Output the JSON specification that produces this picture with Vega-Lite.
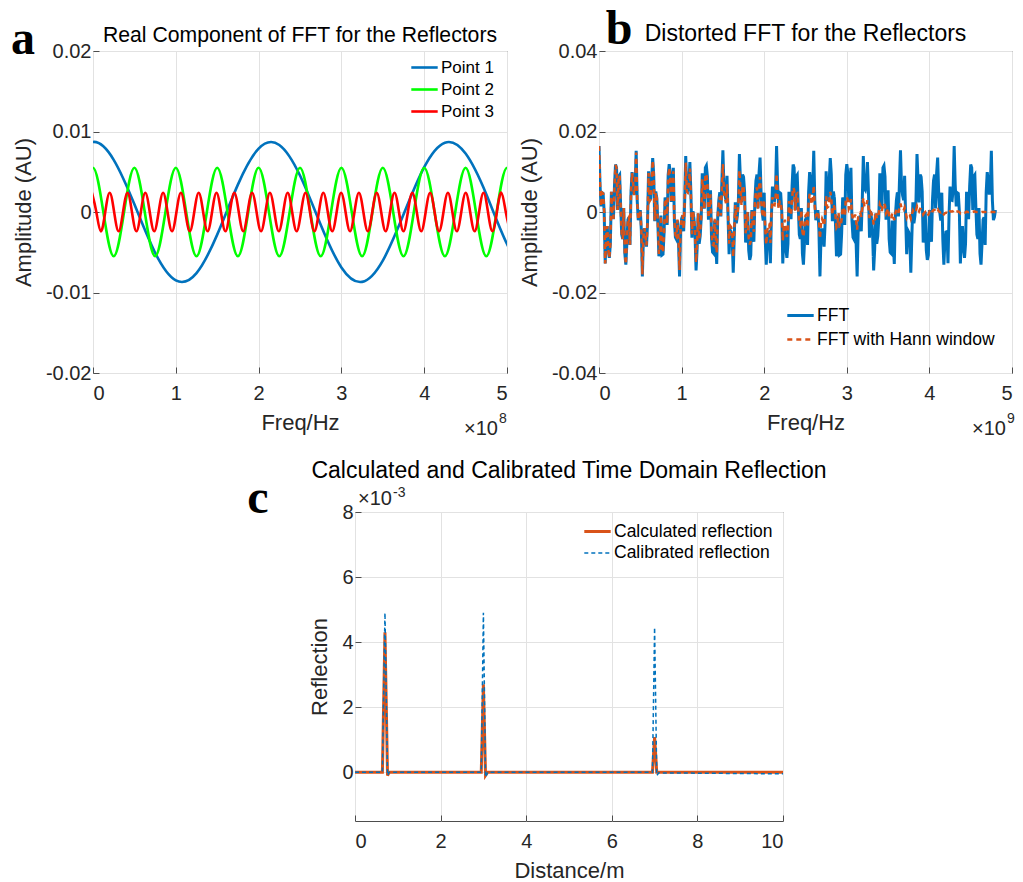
{
"$schema": "https://vega.github.io/schema/vega-lite/v6.json",
"background": "white",
"padding": {"left": 10, "top": 5, "right": 0, "bottom": 0},
"bounds": "flush",
"spacing": 461,
"resolve": {"scale": {"color": "independent", "strokeDash": "independent", "strokeWidth": "independent"}, "legend": {"color": "independent", "strokeDash": "independent", "strokeWidth": "independent"}},
"datasets": {
"fa": [
{"series":"Point 1","freq":-0.25,"amp":0.00648},{"series":"Point 1","freq":0,"amp":0.0087},{"series":"Point 1","freq":0.25,"amp":0.00648},{"series":"Point 1","freq":0.5,"amp":0.00095},{"series":"Point 1","freq":0.75,"amp":-0.00506},{"series":"Point 1","freq":1.0,"amp":-0.00849},{"series":"Point 1","freq":1.25,"amp":-0.00759},{"series":"Point 1","freq":1.5,"amp":-0.00281},{"series":"Point 1","freq":1.75,"amp":0.0034},{"series":"Point 1","freq":2.0,"amp":0.00788},{"series":"Point 1","freq":2.25,"amp":0.00833},{"series":"Point 1","freq":2.5,"amp":0.00453},{"series":"Point 1","freq":2.75,"amp":-0.00158},{"series":"Point 1","freq":3.0,"amp":-0.00689},{"series":"Point 1","freq":3.25,"amp":-0.00868},{"series":"Point 1","freq":3.5,"amp":-0.00604},{"series":"Point 1","freq":3.75,"amp":-0.00032},{"series":"Point 1","freq":4.0,"amp":0.00557},{"series":"Point 1","freq":4.25,"amp":0.00861},{"series":"Point 1","freq":4.5,"amp":0.00726},{"series":"Point 1","freq":4.75,"amp":0.0022},{"series":"Point 1","freq":5.0,"amp":-0.00398},{"series":"Point 1","freq":5.25,"amp":-0.00813},
{"series":"Point 2","freq":-0.125,"amp":0},{"series":"Point 2","freq":0,"amp":0.0055},{"series":"Point 2","freq":0.125,"amp":0},{"series":"Point 2","freq":0.25,"amp":-0.0055},{"series":"Point 2","freq":0.375,"amp":0},{"series":"Point 2","freq":0.5,"amp":0.0055},{"series":"Point 2","freq":0.625,"amp":0},{"series":"Point 2","freq":0.75,"amp":-0.0055},{"series":"Point 2","freq":0.875,"amp":0},{"series":"Point 2","freq":1.0,"amp":0.0055},{"series":"Point 2","freq":1.125,"amp":0},{"series":"Point 2","freq":1.25,"amp":-0.0055},{"series":"Point 2","freq":1.375,"amp":0},{"series":"Point 2","freq":1.5,"amp":0.0055},{"series":"Point 2","freq":1.625,"amp":0},{"series":"Point 2","freq":1.75,"amp":-0.0055},{"series":"Point 2","freq":1.875,"amp":0},{"series":"Point 2","freq":2.0,"amp":0.0055},{"series":"Point 2","freq":2.125,"amp":0},{"series":"Point 2","freq":2.25,"amp":-0.0055},{"series":"Point 2","freq":2.375,"amp":0},{"series":"Point 2","freq":2.5,"amp":0.0055},{"series":"Point 2","freq":2.625,"amp":0},{"series":"Point 2","freq":2.75,"amp":-0.0055},{"series":"Point 2","freq":2.875,"amp":0},{"series":"Point 2","freq":3.0,"amp":0.0055},{"series":"Point 2","freq":3.125,"amp":0},{"series":"Point 2","freq":3.25,"amp":-0.0055},{"series":"Point 2","freq":3.375,"amp":0},{"series":"Point 2","freq":3.5,"amp":0.0055},{"series":"Point 2","freq":3.625,"amp":0},{"series":"Point 2","freq":3.75,"amp":-0.0055},{"series":"Point 2","freq":3.875,"amp":0},{"series":"Point 2","freq":4.0,"amp":0.0055},{"series":"Point 2","freq":4.125,"amp":0},{"series":"Point 2","freq":4.25,"amp":-0.0055},{"series":"Point 2","freq":4.375,"amp":0},{"series":"Point 2","freq":4.5,"amp":0.0055},{"series":"Point 2","freq":4.625,"amp":0},{"series":"Point 2","freq":4.75,"amp":-0.0055},{"series":"Point 2","freq":4.875,"amp":0},{"series":"Point 2","freq":5.0,"amp":0.0055},{"series":"Point 2","freq":5.125,"amp":0},
{"series":"Point 3","freq":-0.0135,"amp":0.0024},{"series":"Point 3","freq":0.0403,"amp":0},{"series":"Point 3","freq":0.094,"amp":-0.0024},{"series":"Point 3","freq":0.1478,"amp":0},{"series":"Point 3","freq":0.2015,"amp":0.0024},{"series":"Point 3","freq":0.2553,"amp":0},{"series":"Point 3","freq":0.309,"amp":-0.0024},{"series":"Point 3","freq":0.3628,"amp":0},{"series":"Point 3","freq":0.4165,"amp":0.0024},{"series":"Point 3","freq":0.4703,"amp":0},{"series":"Point 3","freq":0.524,"amp":-0.0024},{"series":"Point 3","freq":0.5778,"amp":0},{"series":"Point 3","freq":0.6315,"amp":0.0024},{"series":"Point 3","freq":0.6853,"amp":0},{"series":"Point 3","freq":0.739,"amp":-0.0024},{"series":"Point 3","freq":0.7928,"amp":0},{"series":"Point 3","freq":0.8465,"amp":0.0024},{"series":"Point 3","freq":0.9003,"amp":0},{"series":"Point 3","freq":0.954,"amp":-0.0024},{"series":"Point 3","freq":1.0078,"amp":0},{"series":"Point 3","freq":1.0615,"amp":0.0024},{"series":"Point 3","freq":1.1153,"amp":0},{"series":"Point 3","freq":1.169,"amp":-0.0024},{"series":"Point 3","freq":1.2228,"amp":0},{"series":"Point 3","freq":1.2765,"amp":0.0024},{"series":"Point 3","freq":1.3303,"amp":0},{"series":"Point 3","freq":1.384,"amp":-0.0024},{"series":"Point 3","freq":1.4378,"amp":0},{"series":"Point 3","freq":1.4915,"amp":0.0024},{"series":"Point 3","freq":1.5453,"amp":0},{"series":"Point 3","freq":1.599,"amp":-0.0024},{"series":"Point 3","freq":1.6528,"amp":0},{"series":"Point 3","freq":1.7065,"amp":0.0024},{"series":"Point 3","freq":1.7603,"amp":0},{"series":"Point 3","freq":1.814,"amp":-0.0024},{"series":"Point 3","freq":1.8678,"amp":0},{"series":"Point 3","freq":1.9215,"amp":0.0024},{"series":"Point 3","freq":1.9753,"amp":0},{"series":"Point 3","freq":2.029,"amp":-0.0024},{"series":"Point 3","freq":2.0828,"amp":0},{"series":"Point 3","freq":2.1365,"amp":0.0024},{"series":"Point 3","freq":2.1903,"amp":0},{"series":"Point 3","freq":2.244,"amp":-0.0024},{"series":"Point 3","freq":2.2978,"amp":0},{"series":"Point 3","freq":2.3515,"amp":0.0024},{"series":"Point 3","freq":2.4053,"amp":0},{"series":"Point 3","freq":2.459,"amp":-0.0024},{"series":"Point 3","freq":2.5128,"amp":0},{"series":"Point 3","freq":2.5665,"amp":0.0024},{"series":"Point 3","freq":2.6203,"amp":0},{"series":"Point 3","freq":2.674,"amp":-0.0024},{"series":"Point 3","freq":2.7278,"amp":0},{"series":"Point 3","freq":2.7815,"amp":0.0024},{"series":"Point 3","freq":2.8353,"amp":0},{"series":"Point 3","freq":2.889,"amp":-0.0024},{"series":"Point 3","freq":2.9428,"amp":0},{"series":"Point 3","freq":2.9965,"amp":0.0024},{"series":"Point 3","freq":3.0503,"amp":0},{"series":"Point 3","freq":3.104,"amp":-0.0024},{"series":"Point 3","freq":3.1578,"amp":0},{"series":"Point 3","freq":3.2115,"amp":0.0024},{"series":"Point 3","freq":3.2653,"amp":0},{"series":"Point 3","freq":3.319,"amp":-0.0024},{"series":"Point 3","freq":3.3728,"amp":0},{"series":"Point 3","freq":3.4265,"amp":0.0024},{"series":"Point 3","freq":3.4803,"amp":0},{"series":"Point 3","freq":3.534,"amp":-0.0024},{"series":"Point 3","freq":3.5878,"amp":0},{"series":"Point 3","freq":3.6415,"amp":0.0024},{"series":"Point 3","freq":3.6953,"amp":0},{"series":"Point 3","freq":3.749,"amp":-0.0024},{"series":"Point 3","freq":3.8028,"amp":0},{"series":"Point 3","freq":3.8565,"amp":0.0024},{"series":"Point 3","freq":3.9103,"amp":0},{"series":"Point 3","freq":3.964,"amp":-0.0024},{"series":"Point 3","freq":4.0178,"amp":0},{"series":"Point 3","freq":4.0715,"amp":0.0024},{"series":"Point 3","freq":4.1253,"amp":0},{"series":"Point 3","freq":4.179,"amp":-0.0024},{"series":"Point 3","freq":4.2328,"amp":0},{"series":"Point 3","freq":4.2865,"amp":0.0024},{"series":"Point 3","freq":4.3403,"amp":0},{"series":"Point 3","freq":4.394,"amp":-0.0024},{"series":"Point 3","freq":4.4478,"amp":0},{"series":"Point 3","freq":4.5015,"amp":0.0024},{"series":"Point 3","freq":4.5553,"amp":0},{"series":"Point 3","freq":4.609,"amp":-0.0024},{"series":"Point 3","freq":4.6628,"amp":0},{"series":"Point 3","freq":4.7165,"amp":0.0024},{"series":"Point 3","freq":4.7703,"amp":0},{"series":"Point 3","freq":4.824,"amp":-0.0024},{"series":"Point 3","freq":4.8778,"amp":0},{"series":"Point 3","freq":4.9315,"amp":0.0024},{"series":"Point 3","freq":4.9853,"amp":0},{"series":"Point 3","freq":5.039,"amp":-0.0024}
],
"fb": [
{"freq":0,"fft":0.0164,"hann":0.0164},{"freq":0.0125,"fft":0.0067,"hann":0.0067},{"freq":0.025,"fft":0.0014,"hann":0.0014},{"freq":0.0375,"fft":0.0048,"hann":0.0048},{"freq":0.05,"fft":0.0046,"hann":0.0046},{"freq":0.0625,"fft":0.0002,"hann":0.0002},{"freq":0.075,"fft":-0.0128,"hann":-0.0128},{"freq":0.0875,"fft":-0.0056,"hann":-0.0056},{"freq":0.1,"fft":-0.0035,"hann":-0.0035},{"freq":0.1125,"fft":-0.0093,"hann":-0.0093},
{"freq":0.125,"fft":-0.0114,"hann":-0.0114},{"freq":0.1375,"fft":-0.0079,"hann":-0.0079},{"freq":0.15,"fft":0.005,"hann":0.005},{"freq":0.1625,"fft":-0.0014,"hann":-0.0014},{"freq":0.175,"fft":-0.0014,"hann":-0.0014},{"freq":0.1875,"fft":0.0065,"hann":0.0065},{"freq":0.2,"fft":0.0118,"hann":0.0117},{"freq":0.2125,"fft":0.011,"hann":0.0109},{"freq":0.225,"fft":0.0005,"hann":0.0005},{"freq":0.2375,"fft":0.0088,"hann":0.0087},
{"freq":0.25,"fft":0.0092,"hann":0.0091},{"freq":0.2625,"fft":0.0013,"hann":0.0012},{"freq":0.275,"fft":-0.0056,"hann":-0.0056},{"freq":0.2875,"fft":-0.0067,"hann":-0.0067},{"freq":0.3,"fft":0.001,"hann":0.001},{"freq":0.3125,"fft":-0.0103,"hann":-0.0102},{"freq":0.325,"fft":-0.0131,"hann":-0.013},{"freq":0.3375,"fft":-0.0077,"hann":-0.0076},{"freq":0.35,"fft":-0.0019,"hann":-0.0018},{"freq":0.3625,"fft":-0.0013,"hann":-0.0013},
{"freq":0.375,"fft":-0.0082,"hann":-0.0081},{"freq":0.3875,"fft":0.0049,"hann":0.0048},{"freq":0.4,"fft":0.0099,"hann":0.0097},{"freq":0.4125,"fft":0.0076,"hann":0.0075},{"freq":0.425,"fft":0.0043,"hann":0.0042},{"freq":0.4375,"fft":0.0065,"hann":0.0063},{"freq":0.45,"fft":0.0152,"hann":0.0148},{"freq":0.4625,"fft":0.0029,"hann":0.0029},{"freq":0.475,"fft":-0.002,"hann":-0.0019},{"freq":0.4875,"fft":-0.0012,"hann":-0.0011},
{"freq":0.5,"fft":0.0005,"hann":0.0005},{"freq":0.5125,"fft":-0.0045,"hann":-0.0044},{"freq":0.525,"fft":-0.016,"hann":-0.0155},{"freq":0.5375,"fft":-0.0065,"hann":-0.0063},{"freq":0.55,"fft":-0.0041,"hann":-0.004},{"freq":0.5625,"fft":-0.0061,"hann":-0.0059},{"freq":0.575,"fft":-0.0086,"hann":-0.0083},{"freq":0.5875,"fft":-0.0028,"hann":-0.0027},{"freq":0.6,"fft":0.0101,"hann":0.0097},{"freq":0.6125,"fft":0.0028,"hann":0.0027},
{"freq":0.625,"fft":0.0034,"hann":0.0032},{"freq":0.6375,"fft":0.008,"hann":0.0076},{"freq":0.65,"fft":0.0134,"hann":0.0128},{"freq":0.6625,"fft":0.0093,"hann":0.0089},{"freq":0.675,"fft":-0.0023,"hann":-0.0021},{"freq":0.6875,"fft":0.0051,"hann":0.0049},{"freq":0.7,"fft":0.0034,"hann":0.0033},{"freq":0.7125,"fft":-0.0027,"hann":-0.0025},{"freq":0.725,"fft":-0.011,"hann":-0.0104},{"freq":0.7375,"fft":-0.0095,"hann":-0.0089},
{"freq":0.75,"fft":-0.0009,"hann":-0.0009},{"freq":0.7625,"fft":-0.0107,"hann":-0.01},{"freq":0.775,"fft":-0.0105,"hann":-0.0099},{"freq":0.7875,"fft":-0.0054,"hann":-0.0051},{"freq":0.8,"fft":0.0036,"hann":0.0033},{"freq":0.8125,"fft":0.003,"hann":0.0028},{"freq":0.825,"fft":-0.0032,"hann":-0.0029},{"freq":0.8375,"fft":0.0093,"hann":0.0086},{"freq":0.85,"fft":0.0119,"hann":0.011},{"freq":0.8625,"fft":0.0097,"hann":0.009},
{"freq":0.875,"fft":0.0025,"hann":0.0023},{"freq":0.8875,"fft":0.0047,"hann":0.0043},{"freq":0.9,"fft":0.011,"hann":0.0101},{"freq":0.9125,"fft":-0.0021,"hann":-0.0019},{"freq":0.925,"fft":-0.0063,"hann":-0.0057},{"freq":0.9375,"fft":-0.0068,"hann":-0.0061},{"freq":0.95,"fft":-0.0021,"hann":-0.0019},{"freq":0.9625,"fft":-0.0075,"hann":-0.0067},{"freq":0.975,"fft":-0.016,"hann":-0.0144},{"freq":0.9875,"fft":-0.0049,"hann":-0.0044},
{"freq":1.0,"fft":-0.0017,"hann":-0.0015},{"freq":1.0125,"fft":-0.0009,"hann":-0.0008},{"freq":1.025,"fft":-0.0048,"hann":-0.0042},{"freq":1.0375,"fft":0.003,"hann":0.0026},{"freq":1.05,"fft":0.0139,"hann":0.0123},{"freq":1.0625,"fft":0.0058,"hann":0.0051},{"freq":1.075,"fft":0.0054,"hann":0.0048},{"freq":1.0875,"fft":0.0067,"hann":0.0058},{"freq":1.1,"fft":0.0124,"hann":0.0108},{"freq":1.1125,"fft":0.0048,"hann":0.0042},
{"freq":1.125,"fft":-0.0064,"hann":-0.0055},{"freq":1.1375,"fft":0.0002,"hann":0.0001},{"freq":1.15,"fft":-0.0018,"hann":-0.0016},{"freq":1.1625,"fft":-0.0056,"hann":-0.0049},{"freq":1.175,"fft":-0.0145,"hann":-0.0125},{"freq":1.1875,"fft":-0.0093,"hann":-0.0079},{"freq":1.2,"fft":-0.0004,"hann":-0.0003},{"freq":1.2125,"fft":-0.0079,"hann":-0.0067},{"freq":1.225,"fft":-0.006,"hann":-0.0051},{"freq":1.2375,"fft":-0.0014,"hann":-0.0012},
{"freq":1.25,"fft":0.0096,"hann":0.0081},{"freq":1.2625,"fft":0.0065,"hann":0.0055},{"freq":1.275,"fft":0.0008,"hann":0.0007},{"freq":1.2875,"fft":0.011,"hann":0.0091},{"freq":1.3,"fft":0.0115,"hann":0.0095},{"freq":1.3125,"fft":0.0088,"hann":0.0072},{"freq":1.325,"fft":-0.0019,"hann":-0.0015},{"freq":1.3375,"fft":0.0013,"hann":0.001},{"freq":1.35,"fft":0.0054,"hann":0.0044},{"freq":1.3625,"fft":-0.0067,"hann":-0.0055},
{"freq":1.375,"fft":-0.01,"hann":-0.0081},{"freq":1.3875,"fft":-0.0103,"hann":-0.0083},{"freq":1.4,"fft":-0.0021,"hann":-0.0017},{"freq":1.4125,"fft":-0.0077,"hann":-0.0062},{"freq":1.425,"fft":-0.0129,"hann":-0.0102},{"freq":1.4375,"fft":-0.0013,"hann":-0.001},{"freq":1.45,"fft":0.0028,"hann":0.0022},{"freq":1.4625,"fft":0.0049,"hann":0.0038},{"freq":1.475,"fft":-0.0011,"hann":-0.0009},{"freq":1.4875,"fft":0.0076,"hann":0.0059},
{"freq":1.5,"fft":0.0153,"hann":0.0119},{"freq":1.5125,"fft":0.0065,"hann":0.005},{"freq":1.525,"fft":0.0042,"hann":0.0032},{"freq":1.5375,"fft":0.0029,"hann":0.0022},{"freq":1.55,"fft":0.009,"hann":0.0069},{"freq":1.5625,"fft":-0.0012,"hann":-0.0009},{"freq":1.575,"fft":-0.0105,"hann":-0.0079},{"freq":1.5875,"fft":-0.0045,"hann":-0.0034},{"freq":1.6,"fft":-0.005,"hann":-0.0038},{"freq":1.6125,"fft":-0.0065,"hann":-0.0048},
{"freq":1.625,"fft":-0.0151,"hann":-0.0112},{"freq":1.6375,"fft":-0.0061,"hann":-0.0045},{"freq":1.65,"fft":0.0024,"hann":0.0017},{"freq":1.6625,"fft":-0.0028,"hann":-0.002},{"freq":1.675,"fft":-0.0009,"hann":-0.0007},{"freq":1.6875,"fft":0.0028,"hann":0.002},{"freq":1.7,"fft":0.0144,"hann":0.0104},{"freq":1.7125,"fft":0.008,"hann":0.0057},{"freq":1.725,"fft":0.0024,"hann":0.0017},{"freq":1.7375,"fft":0.0093,"hann":0.0066},
{"freq":1.75,"fft":0.0087,"hann":0.0062},{"freq":1.7625,"fft":0.0051,"hann":0.0036},{"freq":1.775,"fft":-0.0076,"hann":-0.0053},{"freq":1.7875,"fft":-0.0027,"hann":-0.0019},{"freq":1.8,"fft":0,"hann":0},{"freq":1.8125,"fft":-0.0095,"hann":-0.0065},{"freq":1.825,"fft":-0.0119,"hann":-0.0081},{"freq":1.8375,"fft":-0.0107,"hann":-0.0073},{"freq":1.85,"fft":0.0005,"hann":0.0003},{"freq":1.8625,"fft":-0.0054,"hann":-0.0036},
{"freq":1.875,"fft":-0.0074,"hann":-0.0049},{"freq":1.8875,"fft":0.003,"hann":0.002},{"freq":1.9,"fft":0.0078,"hann":0.0052},{"freq":1.9125,"fft":0.0093,"hann":0.0061},{"freq":1.925,"fft":0.0009,"hann":0.0006},{"freq":1.9375,"fft":0.0097,"hann":0.0063},{"freq":1.95,"fft":0.0135,"hann":0.0087},{"freq":1.9625,"fft":0.0047,"hann":0.003},{"freq":1.975,"fft":0,"hann":0},{"freq":1.9875,"fft":-0.0021,"hann":-0.0013},
{"freq":2.0,"fft":0.0048,"hann":0.003},{"freq":2.0125,"fft":-0.0068,"hann":-0.0042},{"freq":2.025,"fft":-0.0131,"hann":-0.0081},{"freq":2.0375,"fft":-0.0075,"hann":-0.0046},{"freq":2.05,"fft":-0.005,"hann":-0.0031},{"freq":2.0625,"fft":-0.0049,"hann":-0.003},{"freq":2.075,"fft":-0.0127,"hann":-0.0077},{"freq":2.0875,"fft":-0.0009,"hann":-0.0005},{"freq":2.1,"fft":0.0063,"hann":0.0037},{"freq":2.1125,"fft":0.003,"hann":0.0018},
{"freq":2.125,"fft":0.0029,"hann":0.0017},{"freq":2.1375,"fft":0.0058,"hann":0.0034},{"freq":2.15,"fft":0.0164,"hann":0.0095},{"freq":2.1625,"fft":0.0067,"hann":0.0038},{"freq":2.175,"fft":0.0014,"hann":0.0008},{"freq":2.1875,"fft":0.0048,"hann":0.0027},{"freq":2.2,"fft":0.0046,"hann":0.0026},{"freq":2.2125,"fft":0.0002,"hann":0.0001},{"freq":2.225,"fft":-0.0128,"hann":-0.0071},{"freq":2.2375,"fft":-0.0056,"hann":-0.0031},
{"freq":2.25,"fft":-0.0035,"hann":-0.0019},{"freq":2.2625,"fft":-0.0093,"hann":-0.0051},{"freq":2.275,"fft":-0.0114,"hann":-0.0062},{"freq":2.2875,"fft":-0.0079,"hann":-0.0042},{"freq":2.3,"fft":0.005,"hann":0.0027},{"freq":2.3125,"fft":-0.0014,"hann":-0.0007},{"freq":2.325,"fft":-0.0014,"hann":-0.0007},{"freq":2.3375,"fft":0.0065,"hann":0.0034},{"freq":2.35,"fft":0.0118,"hann":0.0061},{"freq":2.3625,"fft":0.011,"hann":0.0056},
{"freq":2.375,"fft":0.0005,"hann":0.0003},{"freq":2.3875,"fft":0.0088,"hann":0.0044},{"freq":2.4,"fft":0.0092,"hann":0.0046},{"freq":2.4125,"fft":0.0013,"hann":0.0006},{"freq":2.425,"fft":-0.0056,"hann":-0.0028},{"freq":2.4375,"fft":-0.0067,"hann":-0.0033},{"freq":2.45,"fft":0.001,"hann":0.0005},{"freq":2.4625,"fft":-0.0103,"hann":-0.0049},{"freq":2.475,"fft":-0.0131,"hann":-0.0062},{"freq":2.4875,"fft":-0.0077,"hann":-0.0036},
{"freq":2.5,"fft":-0.0019,"hann":-0.0009},{"freq":2.5125,"fft":-0.0013,"hann":-0.0006},{"freq":2.525,"fft":-0.0082,"hann":-0.0038},{"freq":2.5375,"fft":0.0049,"hann":0.0022},{"freq":2.55,"fft":0.0099,"hann":0.0045},{"freq":2.5625,"fft":0.0076,"hann":0.0034},{"freq":2.575,"fft":0.0043,"hann":0.0019},{"freq":2.5875,"fft":0.0065,"hann":0.0029},{"freq":2.6,"fft":0.0152,"hann":0.0066},{"freq":2.6125,"fft":0.0029,"hann":0.0012},
{"freq":2.625,"fft":-0.002,"hann":-0.0009},{"freq":2.6375,"fft":-0.0012,"hann":-0.0005},{"freq":2.65,"fft":0.0005,"hann":0.0002},{"freq":2.6625,"fft":-0.0045,"hann":-0.0019},{"freq":2.675,"fft":-0.016,"hann":-0.0066},{"freq":2.6875,"fft":-0.0065,"hann":-0.0026},{"freq":2.7,"fft":-0.0041,"hann":-0.0017},{"freq":2.7125,"fft":-0.0061,"hann":-0.0024},{"freq":2.725,"fft":-0.0086,"hann":-0.0034},{"freq":2.7375,"fft":-0.0028,"hann":-0.0011},
{"freq":2.75,"fft":0.0101,"hann":0.0039},{"freq":2.7625,"fft":0.0028,"hann":0.0011},{"freq":2.775,"fft":0.0034,"hann":0.0013},{"freq":2.7875,"fft":0.008,"hann":0.003},{"freq":2.8,"fft":0.0134,"hann":0.005},{"freq":2.8125,"fft":0.0093,"hann":0.0034},{"freq":2.825,"fft":-0.0023,"hann":-0.0008},{"freq":2.8375,"fft":0.0051,"hann":0.0018},{"freq":2.85,"fft":0.0034,"hann":0.0012},{"freq":2.8625,"fft":-0.0027,"hann":-0.0009},
{"freq":2.875,"fft":-0.011,"hann":-0.0038},{"freq":2.8875,"fft":-0.0095,"hann":-0.0033},{"freq":2.9,"fft":-0.0009,"hann":-0.0003},{"freq":2.9125,"fft":-0.0107,"hann":-0.0036},{"freq":2.925,"fft":-0.0105,"hann":-0.0035},{"freq":2.9375,"fft":-0.0054,"hann":-0.0018},{"freq":2.95,"fft":0.0036,"hann":0.0012},{"freq":2.9625,"fft":0.003,"hann":0.001},{"freq":2.975,"fft":-0.0032,"hann":-0.001},{"freq":2.9875,"fft":0.0093,"hann":0.0029},
{"freq":3.0,"fft":0.0119,"hann":0.0037},{"freq":3.0125,"fft":0.0097,"hann":0.003},{"freq":3.025,"fft":0.0025,"hann":0.0008},{"freq":3.0375,"fft":0.0047,"hann":0.0014},{"freq":3.05,"fft":0.011,"hann":0.0032},{"freq":3.0625,"fft":-0.0021,"hann":-0.0006},{"freq":3.075,"fft":-0.0063,"hann":-0.0018},{"freq":3.0875,"fft":-0.0068,"hann":-0.0019},{"freq":3.1,"fft":-0.0021,"hann":-0.0006},{"freq":3.1125,"fft":-0.0075,"hann":-0.0021},
{"freq":3.125,"fft":-0.016,"hann":-0.0044},{"freq":3.1375,"fft":-0.0049,"hann":-0.0013},{"freq":3.15,"fft":-0.0017,"hann":-0.0005},{"freq":3.1625,"fft":-0.0009,"hann":-0.0002},{"freq":3.175,"fft":-0.0048,"hann":-0.0012},{"freq":3.1875,"fft":0.003,"hann":0.0008},{"freq":3.2,"fft":0.0139,"hann":0.0035},{"freq":3.2125,"fft":0.0058,"hann":0.0014},{"freq":3.225,"fft":0.0054,"hann":0.0013},{"freq":3.2375,"fft":0.0067,"hann":0.0016},
{"freq":3.25,"fft":0.0124,"hann":0.0029},{"freq":3.2625,"fft":0.0048,"hann":0.0011},{"freq":3.275,"fft":-0.0064,"hann":-0.0015},{"freq":3.2875,"fft":0.0002,"hann":0},{"freq":3.3,"fft":-0.0018,"hann":-0.0004},{"freq":3.3125,"fft":-0.0056,"hann":-0.0012},{"freq":3.325,"fft":-0.0145,"hann":-0.0031},{"freq":3.3375,"fft":-0.0093,"hann":-0.002},{"freq":3.35,"fft":-0.0004,"hann":-0.0001},{"freq":3.3625,"fft":-0.0079,"hann":-0.0016},
{"freq":3.375,"fft":-0.006,"hann":-0.0012},{"freq":3.3875,"fft":-0.0014,"hann":-0.0003},{"freq":3.4,"fft":0.0096,"hann":0.0019},{"freq":3.4125,"fft":0.0065,"hann":0.0013},{"freq":3.425,"fft":0.0008,"hann":0.0002},{"freq":3.4375,"fft":0.011,"hann":0.0021},{"freq":3.45,"fft":0.0115,"hann":0.0021},{"freq":3.4625,"fft":0.0088,"hann":0.0016},{"freq":3.475,"fft":-0.0019,"hann":-0.0003},{"freq":3.4875,"fft":0.0013,"hann":0.0002},
{"freq":3.5,"fft":0.0054,"hann":0.0009},{"freq":3.5125,"fft":-0.0067,"hann":-0.0011},{"freq":3.525,"fft":-0.01,"hann":-0.0016},{"freq":3.5375,"fft":-0.0103,"hann":-0.0017},{"freq":3.55,"fft":-0.0021,"hann":-0.0003},{"freq":3.5625,"fft":-0.0077,"hann":-0.0012},{"freq":3.575,"fft":-0.0129,"hann":-0.002},{"freq":3.5875,"fft":-0.0013,"hann":-0.0002},{"freq":3.6,"fft":0.0028,"hann":0.0004},{"freq":3.6125,"fft":0.0049,"hann":0.0007},
{"freq":3.625,"fft":-0.0011,"hann":-0.0002},{"freq":3.6375,"fft":0.0076,"hann":0.0011},{"freq":3.65,"fft":0.0153,"hann":0.0021},{"freq":3.6625,"fft":0.0065,"hann":0.0009},{"freq":3.675,"fft":0.0042,"hann":0.0005},{"freq":3.6875,"fft":0.0029,"hann":0.0004},{"freq":3.7,"fft":0.009,"hann":0.0011},{"freq":3.7125,"fft":-0.0012,"hann":-0.0001},{"freq":3.725,"fft":-0.0105,"hann":-0.0013},{"freq":3.7375,"fft":-0.0045,"hann":-0.0005},
{"freq":3.75,"fft":-0.005,"hann":-0.0006},{"freq":3.7625,"fft":-0.0065,"hann":-0.0007},{"freq":3.775,"fft":-0.0151,"hann":-0.0016},{"freq":3.7875,"fft":-0.0061,"hann":-0.0006},{"freq":3.8,"fft":0.0024,"hann":0.0003},{"freq":3.8125,"fft":-0.0028,"hann":-0.0003},{"freq":3.825,"fft":-0.0009,"hann":-0.0001},{"freq":3.8375,"fft":0.0028,"hann":0.0003},{"freq":3.85,"fft":0.0144,"hann":0.0014},{"freq":3.8625,"fft":0.008,"hann":0.0007},
{"freq":3.875,"fft":0.0024,"hann":0.0002},{"freq":3.8875,"fft":0.0093,"hann":0.0008},{"freq":3.9,"fft":0.0087,"hann":0.0007},{"freq":3.9125,"fft":0.0051,"hann":0.0004},{"freq":3.925,"fft":-0.0076,"hann":-0.0006},{"freq":3.9375,"fft":-0.0027,"hann":-0.0002},{"freq":3.95,"fft":0,"hann":0},{"freq":3.9625,"fft":-0.0095,"hann":-0.0007},{"freq":3.975,"fft":-0.0119,"hann":-0.0009},{"freq":3.9875,"fft":-0.0107,"hann":-0.0007},
{"freq":4.0,"fft":0.0005,"hann":0},{"freq":4.0125,"fft":-0.0054,"hann":-0.0004},{"freq":4.025,"fft":-0.0074,"hann":-0.0005},{"freq":4.0375,"fft":0.003,"hann":0.0002},{"freq":4.05,"fft":0.0078,"hann":0.0005},{"freq":4.0625,"fft":0.0093,"hann":0.0005},{"freq":4.075,"fft":0.0009,"hann":0.0001},{"freq":4.0875,"fft":0.0097,"hann":0.0005},{"freq":4.1,"fft":0.0135,"hann":0.0007},{"freq":4.1125,"fft":0.0047,"hann":0.0002},
{"freq":4.125,"fft":0,"hann":0},{"freq":4.1375,"fft":-0.0021,"hann":-0.0001},{"freq":4.15,"fft":0.0048,"hann":0.0002},{"freq":4.1625,"fft":-0.0068,"hann":-0.0003},{"freq":4.175,"fft":-0.0131,"hann":-0.0006},{"freq":4.1875,"fft":-0.0075,"hann":-0.0003},{"freq":4.2,"fft":-0.005,"hann":-0.0002},{"freq":4.2125,"fft":-0.0049,"hann":-0.0002},{"freq":4.225,"fft":-0.0127,"hann":-0.0005},{"freq":4.2375,"fft":-0.0009,"hann":0},
{"freq":4.25,"fft":0.0063,"hann":0.0002},{"freq":4.2625,"fft":0.003,"hann":0.0001},{"freq":4.275,"fft":0.0029,"hann":0.0001},{"freq":4.2875,"fft":0.0058,"hann":0.0002},{"freq":4.3,"fft":0.0164,"hann":0.0005},{"freq":4.3125,"fft":0.0067,"hann":0.0002},{"freq":4.325,"fft":0.0014,"hann":0},{"freq":4.3375,"fft":0.0048,"hann":0.0001},{"freq":4.35,"fft":0.0046,"hann":0.0001},{"freq":4.3625,"fft":0.0002,"hann":0},
{"freq":4.375,"fft":-0.0128,"hann":-0.0003},{"freq":4.3875,"fft":-0.0056,"hann":-0.0001},{"freq":4.4,"fft":-0.0035,"hann":-0.0001},{"freq":4.4125,"fft":-0.0093,"hann":-0.0002},{"freq":4.425,"fft":-0.0114,"hann":-0.0002},{"freq":4.4375,"fft":-0.0079,"hann":-0.0001},{"freq":4.45,"fft":0.005,"hann":0.0001},{"freq":4.4625,"fft":-0.0014,"hann":0},{"freq":4.475,"fft":-0.0014,"hann":0},{"freq":4.4875,"fft":0.0065,"hann":0.0001},
{"freq":4.5,"fft":0.0118,"hann":0.0001},{"freq":4.5125,"fft":0.011,"hann":0.0001},{"freq":4.525,"fft":0.0005,"hann":0},{"freq":4.5375,"fft":0.0088,"hann":0.0001},{"freq":4.55,"fft":0.0092,"hann":0.0001},{"freq":4.5625,"fft":0.0013,"hann":0},{"freq":4.575,"fft":-0.0056,"hann":0},{"freq":4.5875,"fft":-0.0067,"hann":0},{"freq":4.6,"fft":0.001,"hann":0},{"freq":4.6125,"fft":-0.0103,"hann":-0.0001},
{"freq":4.625,"fft":-0.0131,"hann":-0.0001},{"freq":4.6375,"fft":-0.0077,"hann":0},{"freq":4.65,"fft":-0.0019,"hann":0},{"freq":4.6625,"fft":-0.0013,"hann":0},{"freq":4.675,"fft":-0.0082,"hann":0},{"freq":4.6875,"fft":0.0049,"hann":0},{"freq":4.7,"fft":0.0099,"hann":0},{"freq":4.7125,"fft":0.0076,"hann":0},{"freq":4.725,"fft":0.0043,"hann":0},{"freq":4.7375,"fft":0.0065,"hann":0},
{"freq":4.75,"fft":0.0152,"hann":0},{"freq":4.7625,"fft":0.0029,"hann":0},{"freq":4.775,"fft":-0.002,"hann":0},{"freq":4.7875,"fft":-0.0012,"hann":0},{"freq":4.8,"fft":0.0005,"hann":0}
],
"fc": [
{"dist":0,"calc":0,"calib":0},{"dist":0.64,"calc":0,"calib":0},{"dist":0.7,"calc":0.0043,"calib":0.0049},{"dist":0.76,"calc":-0.0001,"calib":-0.0001},{"dist":0.8,"calc":0,"calib":0},
{"dist":2.95,"calc":0,"calib":0},{"dist":3.0,"calc":0.0027,"calib":0.0049},{"dist":3.05,"calc":-0.0001,"calib":-0.00015},{"dist":3.1,"calc":0,"calib":0},
{"dist":6.95,"calc":0,"calib":0},{"dist":7.0,"calc":0.00108,"calib":0.00445},{"dist":7.05,"calc":0,"calib":-0.0001},{"dist":7.1,"calc":0,"calib":-0.00002},{"dist":10,"calc":0,"calib":-0.00005}
]
},
"vconcat": [
{"hconcat": [
 {"width": 414, "height": 322,
  "layer": [
   {"data": {"name": "fa"},
    "mark": {"type": "line", "interpolate": "natural", "strokeWidth": 2.6, "clip": true},
    "encoding": {
     "x": {"field": "freq", "type": "quantitative", "title": "Freq/Hz", "scale": {"domain": [0, 5], "nice": false}, "axis": {"values": [0,1,2,3,4,5], "format": "d"}},
     "y": {"field": "amp", "type": "quantitative", "title": "Amplitude (AU)", "scale": {"domain": [-0.02, 0.02], "nice": false}, "axis": {"values": [-0.02,-0.01,0,0.01,0.02], "labelExpr": "datum.value == 0 ? '0' : (datum.value < 0 ? '-' + format(-datum.value, '.2f') : format(datum.value, '.2f'))"}},
     "color": {"field": "series", "type": "nominal", "scale": {"domain": ["Point 1","Point 2","Point 3"], "range": ["#0072BD","#00FF00","#FF0000"]}, "legend": {"orient": "none", "legendX": 315, "legendY": 0, "title": null, "rowPadding": 1, "labelFontSize": 17}}
    }},
   {"data": {"values": [{}]}, "mark": {"type": "text", "text": "Real Component of FFT for the Reflectors", "fontSize": 21.2, "align": "center", "baseline": "alphabetic", "dy": -9, "color": "black"},
    "encoding": {"x": {"datum": 2.5, "type": "quantitative"}, "y": {"datum": 0.02, "type": "quantitative"}}},
   {"data": {"values": [{}]}, "mark": {"type": "text", "text": "a", "font": "Liberation Serif", "fontWeight": "bold", "fontSize": 48, "align": "center", "baseline": "alphabetic", "dx": -70, "dy": 3, "color": "black"},
    "encoding": {"x": {"datum": 0, "type": "quantitative"}, "y": {"datum": 0.02, "type": "quantitative"}}},
   {"data": {"values": [{}]}, "mark": {"type": "text", "text": "×10", "fontSize": 20, "align": "right", "baseline": "alphabetic", "dx": -9, "dy": 62, "color": "#262626"},
    "encoding": {"x": {"datum": 5, "type": "quantitative"}, "y": {"datum": -0.02, "type": "quantitative"}}},
   {"data": {"values": [{}]}, "mark": {"type": "text", "text": "8", "fontSize": 14, "align": "left", "baseline": "alphabetic", "dx": -8, "dy": 50, "color": "#262626"},
    "encoding": {"x": {"datum": 5, "type": "quantitative"}, "y": {"datum": -0.02, "type": "quantitative"}}}
  ]},
 {"width": 413, "height": 322,
  "layer": [
   {"data": {"name": "fb"},
    "transform": [{"fold": ["fft", "hann"], "as": ["series", "amp"]}],
    "mark": {"type": "line", "clip": true},
    "encoding": {
     "x": {"field": "freq", "type": "quantitative", "title": "Freq/Hz", "scale": {"domain": [0, 5], "nice": false}, "axis": {"values": [0,1,2,3,4,5], "format": "d"}},
     "y": {"field": "amp", "type": "quantitative", "title": "Amplitude (AU)", "scale": {"domain": [-0.04, 0.04], "nice": false}, "axis": {"values": [-0.04,-0.02,0,0.02,0.04], "labelExpr": "datum.value == 0 ? '0' : (datum.value < 0 ? '-' + format(-datum.value, '.2f') : format(datum.value, '.2f'))"}},
     "color": {"field": "series", "type": "nominal", "scale": {"domain": ["fft","hann"], "range": ["#0072BD","#D95319"]}, "legend": {"orient": "none", "legendX": 185, "legendY": 248, "title": null, "rowPadding": 3, "labelFontSize": 17.5, "labelExpr": "datum.label == 'fft' ? 'FFT' : 'FFT with Hann window'"}},
     "strokeDash": {"field": "series", "type": "nominal", "scale": {"domain": ["fft","hann"], "range": [[1,0],[5,4]]}, "legend": {"orient": "none", "legendX": 185, "legendY": 248, "title": null, "rowPadding": 3, "labelFontSize": 17.5, "labelExpr": "datum.label == 'fft' ? 'FFT' : 'FFT with Hann window'"}},
     "strokeWidth": {"field": "series", "type": "nominal", "scale": {"domain": ["fft","hann"], "range": [3, 2.5]}, "legend": null}
    }},
   {"data": {"values": [{}]}, "mark": {"type": "text", "text": "Distorted FFT for the Reflectors", "fontSize": 23, "align": "center", "baseline": "alphabetic", "dy": -10, "color": "black"},
    "encoding": {"x": {"datum": 2.5, "type": "quantitative"}, "y": {"datum": 0.04, "type": "quantitative"}}},
   {"data": {"values": [{}]}, "mark": {"type": "text", "text": "b", "font": "Liberation Serif", "fontWeight": "bold", "fontSize": 48, "align": "center", "baseline": "alphabetic", "dx": 20, "dy": -7, "color": "black"},
    "encoding": {"x": {"datum": 0, "type": "quantitative"}, "y": {"datum": 0.04, "type": "quantitative"}}},
   {"data": {"values": [{}]}, "mark": {"type": "text", "text": "×10", "fontSize": 20, "align": "right", "baseline": "alphabetic", "dx": -6, "dy": 62, "color": "#262626"},
    "encoding": {"x": {"datum": 5, "type": "quantitative"}, "y": {"datum": -0.04, "type": "quantitative"}}},
   {"data": {"values": [{}]}, "mark": {"type": "text", "text": "9", "fontSize": 14, "align": "left", "baseline": "alphabetic", "dx": -5, "dy": 50, "color": "#262626"},
    "encoding": {"x": {"datum": 5, "type": "quantitative"}, "y": {"datum": -0.04, "type": "quantitative"}}}
  ]}
], "spacing": 92, "bounds": "flush",
 "resolve": {"scale": {"color": "independent", "strokeDash": "independent", "strokeWidth": "independent"}, "legend": {"color": "independent", "strokeDash": "independent", "strokeWidth": "independent"}}},
{"hconcat": [
 {"width": 1, "height": 1, "data": {"values": [{}]}, "mark": {"type": "point", "opacity": 0}, "encoding": {}, "view": {"stroke": null}},
 {"width": 428, "height": 309,
  "layer": [
   {"data": {"name": "fc"},
    "transform": [{"fold": ["calc", "calib"], "as": ["series", "refl"]}],
    "mark": {"type": "line", "clip": true},
    "encoding": {
     "x": {"field": "dist", "type": "quantitative", "title": "Distance/m", "scale": {"domain": [0, 10], "nice": false}, "axis": {"values": [0,2,4,6,8,10], "format": "d"}},
     "y": {"field": "refl", "type": "quantitative", "title": "Reflection", "scale": {"domain": [-0.0015, 0.008], "nice": false}, "axis": {"values": [0,0.002,0.004,0.006,0.008], "labelExpr": "format(datum.value*1000, 'd')"}},
     "color": {"field": "series", "type": "nominal", "scale": {"domain": ["calc","calib"], "range": ["#D95319","#0072BD"]}, "legend": {"orient": "none", "legendX": 226, "legendY": 3, "title": null, "rowPadding": 1, "labelFontSize": 17.5, "labelExpr": "datum.label == 'calc' ? 'Calculated reflection' : 'Calibrated reflection'"}},
     "strokeDash": {"field": "series", "type": "nominal", "scale": {"domain": ["calc","calib"], "range": [[1,0],[4,3]]}, "legend": {"orient": "none", "legendX": 226, "legendY": 3, "title": null, "rowPadding": 1, "labelFontSize": 17.5, "labelExpr": "datum.label == 'calc' ? 'Calculated reflection' : 'Calibrated reflection'"}},
     "strokeWidth": {"field": "series", "type": "nominal", "scale": {"domain": ["calc","calib"], "range": [3, 1.5]}, "legend": {"orient": "none", "legendX": 226, "legendY": 3, "title": null, "rowPadding": 1, "labelFontSize": 17.5, "labelExpr": "datum.label == 'calc' ? 'Calculated reflection' : 'Calibrated reflection'"}}
    }},
   {"data": {"values": [{}]}, "mark": {"type": "text", "text": "Calculated and Calibrated Time Domain Reflection", "fontSize": 23, "align": "center", "baseline": "alphabetic", "dy": -34, "color": "black"},
    "encoding": {"x": {"datum": 5, "type": "quantitative"}, "y": {"datum": 0.008, "type": "quantitative"}}},
   {"data": {"values": [{}]}, "mark": {"type": "text", "text": "c", "font": "Liberation Serif", "fontWeight": "bold", "fontSize": 48, "align": "center", "baseline": "alphabetic", "dx": -97, "dy": 1, "color": "black"},
    "encoding": {"x": {"datum": 0, "type": "quantitative"}, "y": {"datum": 0.008, "type": "quantitative"}}},
   {"data": {"values": [{}]}, "mark": {"type": "text", "text": "×10", "fontSize": 20, "align": "left", "baseline": "alphabetic", "dx": 3, "dy": -7, "color": "#262626"},
    "encoding": {"x": {"datum": 0, "type": "quantitative"}, "y": {"datum": 0.008, "type": "quantitative"}}},
   {"data": {"values": [{}]}, "mark": {"type": "text", "text": "-3", "fontSize": 14, "align": "left", "baseline": "alphabetic", "dx": 38, "dy": -15, "color": "#262626"},
    "encoding": {"x": {"datum": 0, "type": "quantitative"}, "y": {"datum": 0.008, "type": "quantitative"}}}
  ]}
], "spacing": 261, "bounds": "flush",
 "resolve": {"scale": {"color": "independent", "strokeDash": "independent", "strokeWidth": "independent"}, "legend": {"color": "independent", "strokeDash": "independent", "strokeWidth": "independent"}}}
],
"config": {
 "font": "Liberation Sans",
 "view": {"stroke": "#4d4d4d", "strokeWidth": 1},
 "text": {"font": "Liberation Sans"},
 "axis": {"domain": false, "grid": true, "gridColor": "#e2e2e2", "ticks": true, "tickSize": -6, "tickColor": "#4d4d4d", "labelFont": "Liberation Sans", "labelFontSize": 20, "labelColor": "#262626", "titleFont": "Liberation Sans", "titleFontSize": 22, "titleFontWeight": "normal", "titleColor": "#262626"},
 "axisX": {"labelPadding": 16, "titlePadding": 9},
 "axisY": {"labelPadding": 8, "titlePadding": 10},
 "legend": {"labelFont": "Liberation Sans", "labelColor": "#000000", "symbolType": "M-1.2,0H1.2", "symbolSize": 484, "symbolStrokeWidth": 2.6, "padding": 4, "labelOffset": 4, "labelLimit": 400}
}
}
